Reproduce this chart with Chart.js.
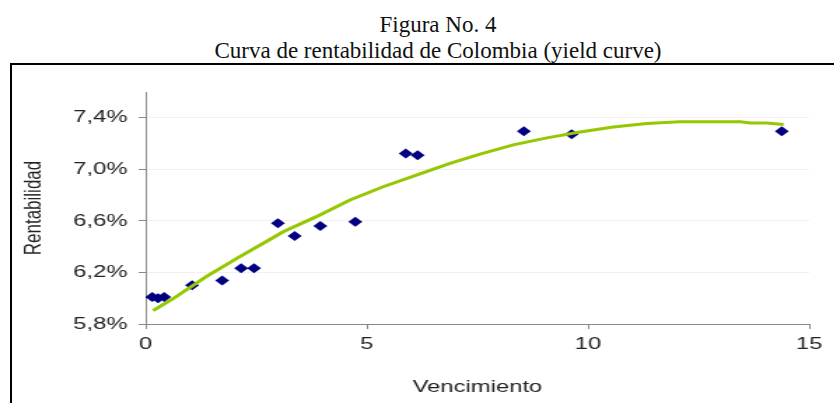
<!DOCTYPE html>
<html>
<head>
<meta charset="utf-8">
<script src="https://cdn.jsdelivr.net/npm/chart.js@4.4.1/dist/chart.umd.min.js"></script>
<style>
  body { margin: 0; width: 834px; height: 403px; overflow: hidden; background: #fff; position: relative; }
  #titulo { position: absolute; left: 38px; width: 800px; top: 12px; text-align: center;
            font-family: "Liberation Serif", serif; font-size: 23px; line-height: 26px; color: #111; }
  #marco { position: absolute; left: 10px; top: 63px; width: 830px; height: 350px;
           border-left: 2px solid #000; border-top: 2px solid #000; }
  #wrap { position: absolute; left: 0; top: 63px; width: 596px; height: 340px;
          transform: scaleX(1.4); transform-origin: 0 0; }
</style>
</head>
<body>
<div id="titulo">Figura No. 4<br>Curva de rentabilidad de Colombia (yield curve)</div>
<div id="marco"></div>
<div id="wrap"><canvas id="grafico"></canvas></div>
<script>
// bonos observados (vencimiento en años, rentabilidad en %)
var vencimientos = [0.15, 0.28, 0.42, 1.05, 1.73, 2.16, 2.45, 2.99, 3.37, 3.95, 4.74, 5.88, 6.15, 8.55, 9.63, 14.38]
var rentabilidades = [6.01, 6.0, 6.01, 6.10, 6.137, 6.233, 6.233, 6.581, 6.483, 6.561, 6.594, 7.123, 7.11, 7.296, 7.272, 7.296]

// curva ajustada
var curvaX = [0.17, 0.62, 1.37, 2.13, 2.73, 3.11, 3.86, 4.62, 5.37, 6.12, 6.88, 7.56, 8.31, 9.07, 9.82, 10.57, 11.33, 12.08, 12.84, 13.44, 13.67, 14.04, 14.42]
var curvaY = [5.903, 5.996, 6.168, 6.323, 6.44, 6.516, 6.633, 6.762, 6.865, 6.955, 7.046, 7.118, 7.19, 7.244, 7.29, 7.329, 7.356, 7.369, 7.369, 7.369, 7.36, 7.36, 7.347]

var ticksX = [0, 5, 10, 15]
var ticksY = [5.8, 6.2, 6.6, 7.0, 7.4]

var puntos = []
for (var i = 0; i < vencimientos.length; i++) {
  puntos.push({x: vencimientos[i], y: rentabilidades[i]})
}
var curva = []
for (var j = 0; j < curvaX.length; j++) {
  curva.push({x: curvaX[j], y: curvaY[j]})
}

var fuente = "'Liberation Sans', Arial, sans-serif"

var ctx = document.getElementById("grafico").getContext("2d")
var chart = new Chart(ctx, {
  type: "scatter",
  data: {
    datasets: [
      {
        label: "Curva",
        data: curva,
        showLine: true,
        borderColor: "#94c800",
        borderWidth: 3,
        pointRadius: 0,
        tension: 0
      },
      {
        label: "Bonos",
        data: puntos,
        pointStyle: "rectRot",
        pointRadius: 5,
        backgroundColor: "#000080",
        borderColor: "#000080",
        borderWidth: 0
      }
    ]
  },
  options: {
    responsive: true,
    maintainAspectRatio: false,
    animation: false,
    layout: { padding: { top: 29, right: 18, left: 0, bottom: 0 } },
    plugins: { legend: { display: false }, tooltip: { enabled: false } },
    scales: {
      x: {
        type: "linear",
        min: 0,
        max: 15,
        afterBuildTicks: function(scale) {
          scale.ticks = ticksX.map(function(v){ return {value: v} })
        },
        afterFit: function(scale) { scale.height = 79 },
        grid: { drawOnChartArea: false, tickLength: 5, tickColor: "#888", color: "#888" },
        border: { color: "#888", width: 1 },
        ticks: { color: "#222", font: { family: fuente, size: 17 }, padding: 5, maxRotation: 0 },
        title: { display: true, text: "Vencimiento", color: "#222",
                 font: { family: fuente, size: 17 }, padding: { bottom: 5 } }
      },
      y: {
        type: "linear",
        min: 5.8,
        max: 7.6,
        afterBuildTicks: function(scale) {
          scale.ticks = ticksY.map(function(v){ return {value: v} })
        },
        afterFit: function(scale) { scale.width = 104 },
        grid: { color: "#f0f0f0", tickLength: 5, tickColor: "#888" },
        border: { color: "#888", width: 1 },
        ticks: {
          color: "#222",
          font: { family: fuente, size: 17 },
          padding: 8,
          callback: function(v) { return v.toFixed(1).replace(".", ",") + "%" }
        },
        title: { display: true, text: "Rentabilidad", color: "#222",
                 font: { family: fuente, size: 17 }, padding: { top: 14 } }
      }
    }
  }
})
</script>
</body>
</html>
